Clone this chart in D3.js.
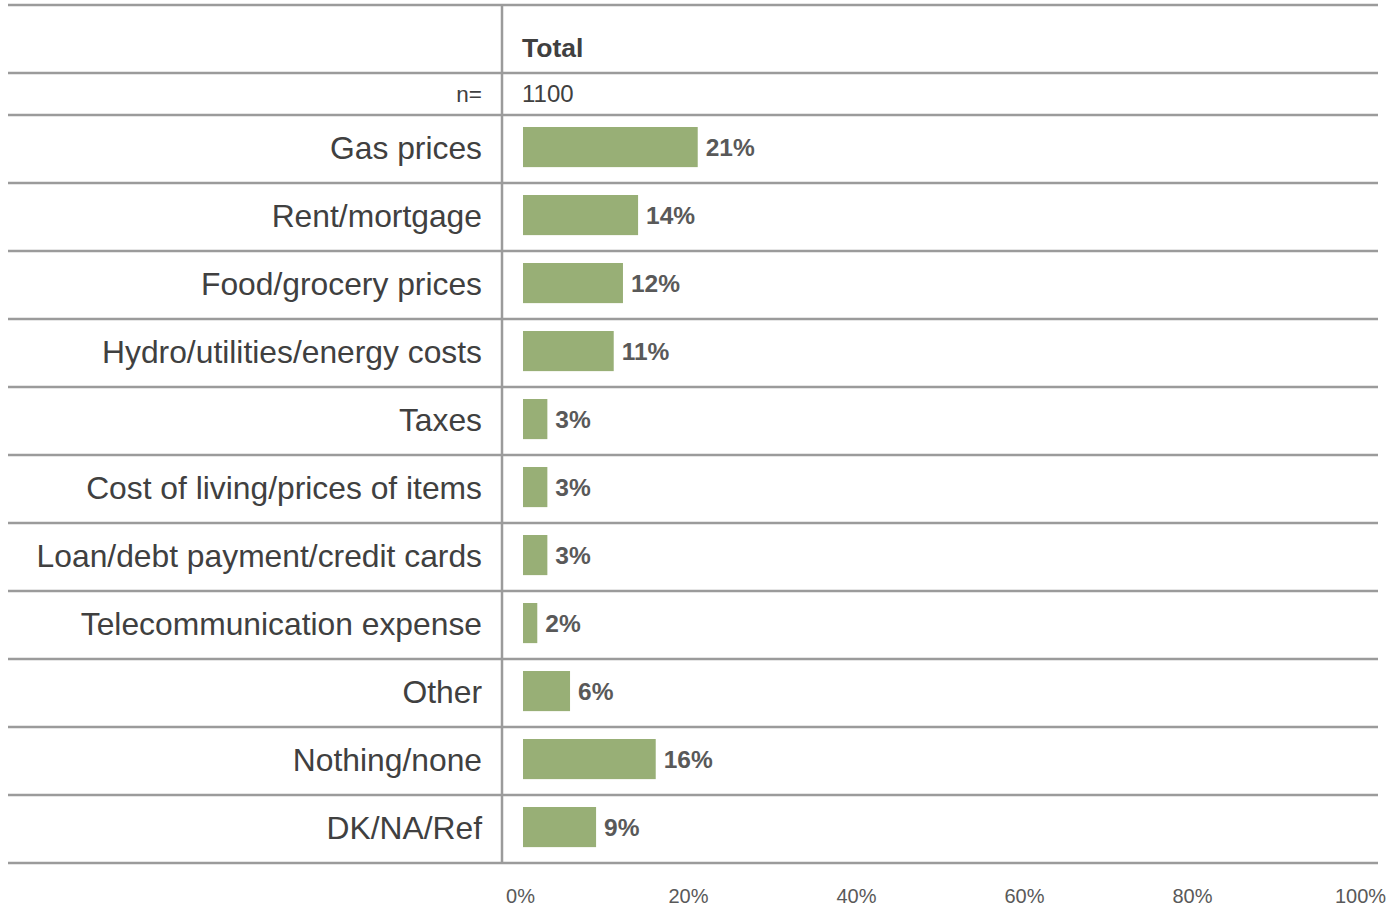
<html>
<head>
<meta charset="UTF-8">
<title>Total</title>
<script src="https://cdn.jsdelivr.net/npm/d3@7"></script>
<style>
  body { margin:0; background:#fff; }
  svg text { font-family: "Liberation Sans", Arial, sans-serif; }
</style>
</head>
<body>
<svg id="chart" width="1392" height="907"></svg>
<script>
// data
var categories = ["Gas prices", "Rent/mortgage", "Food/grocery prices", "Hydro/utilities/energy costs",
  "Taxes", "Cost of living/prices of items", "Loan/debt payment/credit cards",
  "Telecommunication expense", "Other", "Nothing/none", "DK/NA/Ref"];
var values = [20.8, 13.7, 11.9, 10.8, 2.9, 2.9, 2.9, 1.7, 5.6, 15.8, 8.7];
var columnTitle = "Total";
var sampleLabel = "n=";
var sampleSize = "1100";
var tickValues = [0, 20, 40, 60, 80, 100];

var svg = d3.select("#chart");
var lineColor = "#9b9b9b";
var left = 8, right = 1378, divider = 502;

var x = d3.scaleLinear().domain([0, 100]).range([522, 1362]);
var row = d3.scaleBand().domain(categories).range([115, 863]).padding(0);

var data = categories.map(function(c, i){ return {name:c, value:values[i]}; });

// horizontal rules
var rules = [5, 73, 115].concat(categories.map(function(c){ return row(c) + row.bandwidth(); }));
svg.selectAll("line.rule")
  .data(rules)
  .enter().append("line")
  .attr("class", "rule")
  .attr("x1", left).attr("x2", right)
  .attr("y1", function(d){ return d; }).attr("y2", function(d){ return d; })
  .attr("stroke", lineColor).attr("stroke-width", 2.5);

// vertical divider
svg.append("line")
  .attr("x1", divider).attr("x2", divider)
  .attr("y1", 5).attr("y2", 863)
  .attr("stroke", lineColor).attr("stroke-width", 2.5);

// header
svg.append("text")
  .attr("x", 522).attr("y", 57)
  .attr("font-size", 26.5).attr("font-weight", "bold")
  .attr("fill", "#404040")
  .text(columnTitle);
svg.append("text")
  .attr("x", 482).attr("y", 102)
  .attr("text-anchor", "end")
  .attr("font-size", 22.5).attr("fill", "#404040")
  .text(sampleLabel);
svg.append("text")
  .attr("x", 522).attr("y", 102)
  .attr("font-size", 24).attr("fill", "#404040")
  .text(sampleSize);

// category labels
svg.selectAll("text.cat")
  .data(data)
  .enter().append("text")
  .attr("class", "cat")
  .attr("x", 482)
  .attr("y", function(d){ return row(d.name) + row.bandwidth()/2 - 1; })
  .attr("dy", "0.35em")
  .attr("text-anchor", "end")
  .attr("font-size", 31.8)
  .attr("fill", "#404040")
  .text(function(d){ return d.name; });

// bars
var barH = row.bandwidth() * 0.59;
svg.selectAll("rect.bar")
  .data(data)
  .enter().append("rect")
  .attr("class", "bar")
  .attr("x", x(0) + 1)
  .attr("y", function(d){ return row(d.name) + 12; })
  .attr("width", function(d){ return x(d.value) - x(0); })
  .attr("height", barH)
  .attr("fill", "#98af76");

// value labels
svg.selectAll("text.val")
  .data(data)
  .enter().append("text")
  .attr("class", "val")
  .attr("x", function(d){ return x(d.value) + 9; })
  .attr("y", function(d){ return row(d.name) + 12 + barH/2; })
  .attr("dy", "0.35em")
  .attr("font-size", 24.5).attr("font-weight", "bold")
  .attr("fill", "#595959")
  .text(function(d){ return Math.round(d.value) + "%"; });

// x axis
var axis = svg.append("g")
  .attr("transform", "translate(-2,863)")
  .call(d3.axisBottom(x).tickValues(tickValues).tickSize(0).tickPadding(26)
    .tickFormat(function(d){ return d + "%"; }));
axis.select(".domain").remove();
axis.selectAll("text")
  .attr("font-size", 20)
  .attr("fill", "#595959")
  .style("font-family", "'Liberation Sans', Arial, sans-serif");
</script>
</body>
</html>
